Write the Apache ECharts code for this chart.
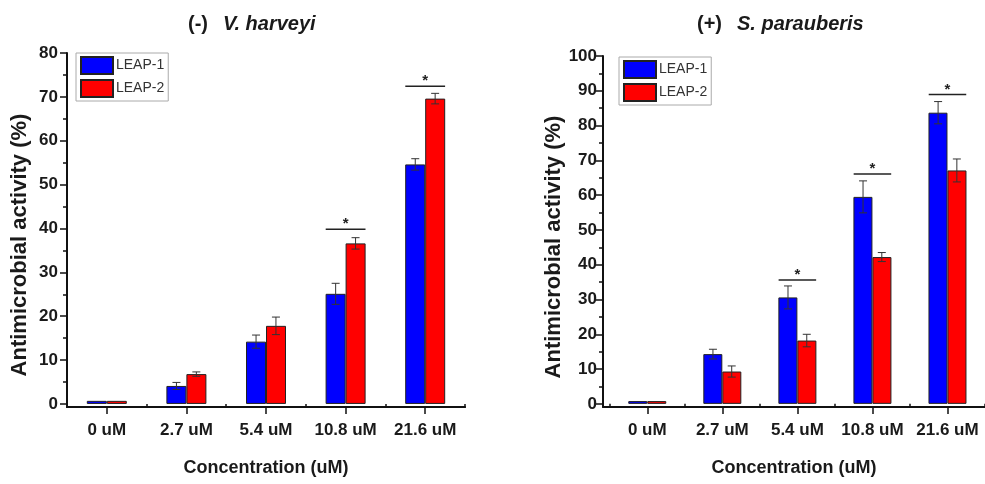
<!DOCTYPE html>
<html>
<head>
<meta charset="utf-8">
<script src="https://cdn.jsdelivr.net/npm/echarts@6/dist/echarts.min.js"></script>
<style>
html,body{margin:0;padding:0;background:#fff;}
#chart{width:985px;height:484px;}
</style>
</head>
<body>
<div id="chart"></div>
<script>
// ---- data ----
const categories = ['0 uM', '2.7 uM', '5.4 uM', '10.8 uM', '21.6 uM'];
const seriesNames = ['LEAP-1', 'LEAP-2'];

// (-) V. harveyi
const vhLeap1 = [0.7, 4.1, 14.2, 25.1, 54.6];
const vhLeap1Err = [0, 0.8, 1.5, 2.4, 1.3];
const vhLeap2 = [0.7, 6.8, 17.8, 36.6, 69.6];
const vhLeap2Err = [0, 0.5, 2.0, 1.3, 1.2];
const vhSigIndex = [3, 4];
const vhSigHeight = [39.8, 72.4];
const vhTicks = [0, 10, 20, 30, 40, 50, 60, 70, 80];
const vhMinorTicks = [5, 15, 25, 35, 45, 55, 65, 75];

// (+) S. parauberis
const spLeap1 = [0.8, 14.3, 30.6, 59.5, 83.7];
const spLeap1Err = [0, 1.4, 3.3, 4.6, 3.2];
const spLeap2 = [0.8, 9.3, 18.2, 42.2, 67.1];
const spLeap2Err = [0, 1.6, 1.8, 1.3, 3.3];
const spSigIndex = [2, 3, 4];
const spSigHeight = [35.6, 66.1, 88.9];
const spTicks = [0, 10, 20, 30, 40, 50, 60, 70, 80, 90, 100];
const spMinorTicks = [5, 15, 25, 35, 45, 55, 65, 75, 85, 95];

// ---- helpers ----
const FONT = "'Liberation Sans', Arial, sans-serif";
const TXT = '#1a1a1a';
const catPos = categories.map((c, i) => i + 1);
const boundaryPos = categories.map((c, i) => i + 0.5).concat([categories.length + 0.5]);

function barData(vals) { return vals.map((v, i) => [catPos[i], v]); }
function errData(vals, errs) {
  const out = [];
  vals.forEach((v, i) => { if (errs[i] > 0) out.push([catPos[i], v - errs[i], v + errs[i]]); });
  return out;
}
function sigData(idx, h) { return idx.map((k, i) => [catPos[k], h[i]]); }

function errRender(sign) {
  return function (params, api) {
    const x = api.value(0);
    const lo = api.coord([x, api.value(1)]);
    const hi = api.coord([x, api.value(2)]);
    const band = api.size([1, 0])[0];
    const cx = lo[0] + sign * band / 8;
    const cap = 4;
    const st = { stroke: '#333', lineWidth: 1 };
    return {
      type: 'group',
      children: [
        { type: 'line', shape: { x1: cx, y1: lo[1], x2: cx, y2: hi[1] }, style: st },
        { type: 'line', shape: { x1: cx - cap, y1: hi[1], x2: cx + cap, y2: hi[1] }, style: st },
        { type: 'line', shape: { x1: cx - cap, y1: lo[1], x2: cx + cap, y2: lo[1] }, style: st }
      ]
    };
  };
}
function sigRender(params, api) {
  const p = api.coord([api.value(0), api.value(1)]);
  const half = api.size([1, 0])[0] / 4;
  return {
    type: 'group',
    children: [
      { type: 'line', shape: { x1: p[0] - half, y1: p[1], x2: p[0] + half, y2: p[1] },
        style: { stroke: '#222', lineWidth: 1.5 } },
      { type: 'text', x: p[0], y: p[1] - 5,
        style: { text: '*', fill: '#222', font: 'bold 15px ' + FONT, align: 'center', verticalAlign: 'middle' } }
    ]
  };
}

function xAxes(gridIndex, min, max) {
  return [
    {
      gridIndex, type: 'value', min, max, position: 'bottom',
      splitLine: { show: false },
      axisLine: { show: true, onZero: false, lineStyle: { color: '#111', width: 2 } },
      axisTick: { show: true, customValues: catPos, length: 7, lineStyle: { color: '#111', width: 1.5 } },
      axisLabel: { customValues: catPos, formatter: v => categories[Math.round(v) - 1] || '',
        margin: 15, fontSize: 17, fontWeight: 'bold', fontFamily: FONT, color: TXT },
      name: 'Concentration (uM)', nameLocation: 'middle', nameGap: 52,
      nameTextStyle: { fontSize: 18, fontWeight: 'bold', fontFamily: FONT, color: TXT }
    },
    {
      gridIndex, type: 'value', min, max, position: 'bottom',
      splitLine: { show: false },
      axisLine: { show: false },
      axisTick: { show: true, customValues: boundaryPos, length: 4, lineStyle: { color: '#111', width: 1.5 } },
      axisLabel: { show: false }
    }
  ];
}
function yAxes(gridIndex, min, max, ticks, minor, namePad, labelMargin) {
  return [
    {
      gridIndex, type: 'value', min, max, position: 'left',
      splitLine: { show: false },
      axisLine: { show: true, onZero: false, lineStyle: { color: '#111', width: 2 } },
      axisTick: { show: true, customValues: ticks, length: 7, lineStyle: { color: '#111', width: 1.5 } },
      axisLabel: { customValues: ticks, margin: labelMargin, fontSize: 17, fontWeight: 'bold', fontFamily: FONT, color: TXT },
      name: 'Antimicrobial activity (%)', nameLocation: 'middle', nameGap: 36,
      nameTextStyle: { fontSize: 22, fontWeight: 'bold', fontFamily: FONT, color: TXT, padding: [0, namePad, 0, 0] }
    },
    {
      gridIndex, type: 'value', min, max, position: 'left',
      splitLine: { show: false },
      axisLine: { show: false },
      axisTick: { show: true, customValues: minor, length: 4, lineStyle: { color: '#111', width: 1.5 } },
      axisLabel: { show: false }
    }
  ];
}

const blueStyle = { color: '#0000FF', borderColor: '#222', borderWidth: 1 };
const redStyle = { color: '#FF0000', borderColor: '#222', borderWidth: 1 };

function panelSeries(xi, yi, l1, l1e, l2, l2e, sigIdx, sigH, bw) {
  return [
    { name: seriesNames[0], type: 'bar', xAxisIndex: xi, yAxisIndex: yi, data: barData(l1),
      barWidth: bw, barGap: '0%', itemStyle: blueStyle, z: 2 },
    { name: seriesNames[1], type: 'bar', xAxisIndex: xi, yAxisIndex: yi, data: barData(l2),
      barWidth: bw, barGap: '0%', itemStyle: redStyle, z: 2 },
    { type: 'custom', xAxisIndex: xi, yAxisIndex: yi, renderItem: errRender(-1),
      data: errData(l1, l1e), encode: { x: 0, y: [1, 2] }, z: 5, silent: true },
    { type: 'custom', xAxisIndex: xi, yAxisIndex: yi, renderItem: errRender(1),
      data: errData(l2, l2e), encode: { x: 0, y: [1, 2] }, z: 5, silent: true },
    { type: 'custom', xAxisIndex: xi, yAxisIndex: yi, renderItem: sigRender,
      data: sigData(sigIdx, sigH), encode: { x: 0, y: 1 }, z: 5, silent: true }
  ];
}

function legendAt(left, top) {
  return {
    data: seriesNames, orient: 'vertical', left, top,
    itemWidth: 32, itemHeight: 17, itemGap: 4, icon: 'rect',
    padding: [3, 4, 3, 4], borderColor: '#aaa', borderWidth: 1,
    textStyle: { fontSize: 14, fontFamily: FONT, color: '#333', padding: [0, 0, 0, -2] },
    selectedMode: false
  };
}

function titleAt(left, prefix, species) {
  return {
    text: '{a|' + prefix + '}   {b|' + species + '}',
    left, top: 9,
    textStyle: {
      rich: {
        a: { fontSize: 20, fontWeight: 'bold', fontFamily: FONT, color: TXT },
        b: { fontSize: 20, fontWeight: 'bold', fontStyle: 'italic', fontFamily: FONT, color: TXT }
      }
    }
  };
}

const chart = echarts.init(document.getElementById('chart'), null, { renderer: 'canvas' });
chart.setOption({
  animation: false,
  backgroundColor: '#fff',
  title: [titleAt(183, '(-)', 'V. harveyi'), titleAt(692, '(+)', 'S. parauberis')],
  legend: [legendAt(76, 53), legendAt(619, 57)],
  grid: [
    { left: 67, top: 53, width: 398, height: 354 },
    { left: 603, top: 56, width: 384, height: 351 }
  ],
  xAxis: xAxes(0, 0.5, 5.5).concat(xAxes(1, 0.41, 5.5)),
  yAxis: yAxes(0, -0.7, 80, vhTicks, vhMinorTicks, 30, 9).concat(yAxes(1, -0.9, 100, spTicks, spMinorTicks, 31, 6)),
  series: panelSeries(0, 0, vhLeap1, vhLeap1Err, vhLeap2, vhLeap2Err, vhSigIndex, vhSigHeight, 20)
    .concat(panelSeries(2, 2, spLeap1, spLeap1Err, spLeap2, spLeap2Err, spSigIndex, spSigHeight, 19))
});
</script>
</body>
</html>
